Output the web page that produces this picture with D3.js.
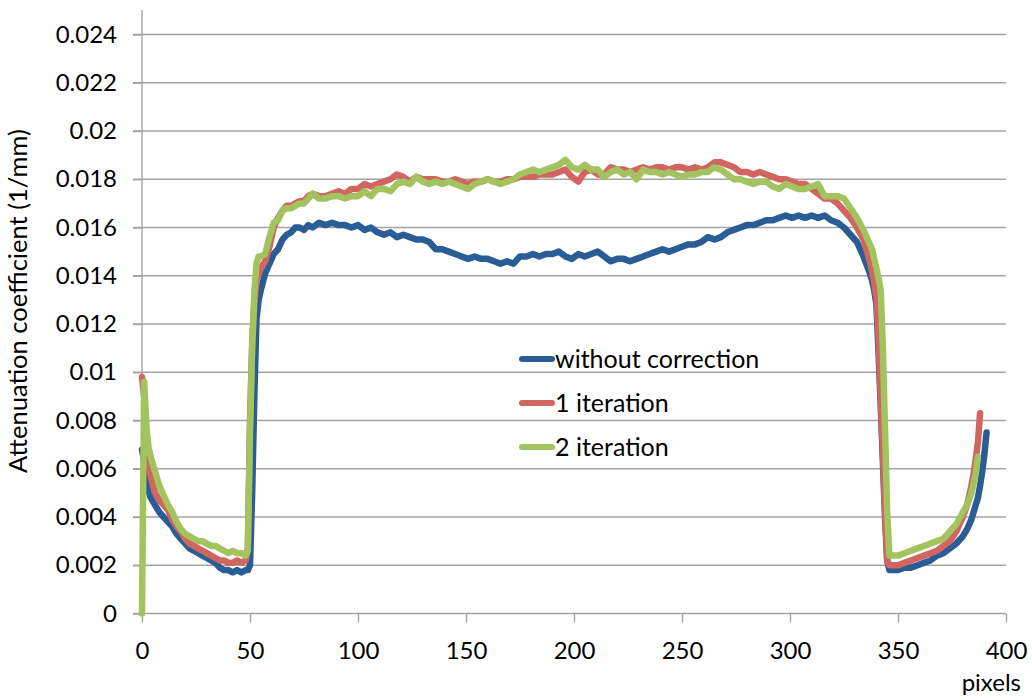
<!DOCTYPE html>
<html>
<head>
<meta charset="utf-8">
<script src="https://cdn.jsdelivr.net/npm/d3@7"></script>
<style>
  body { margin: 0; background: #ffffff; }
  svg text { font-family: Lato, "Open Sans", "Liberation Sans", sans-serif; fill: #000; }
</style>
</head>
<body>
<svg id="chart" width="1032" height="700"></svg>
<script>
// Profile position along the line (pixels)
const pixelPos = [
  0, 1, 2, 3, 4,
  6, 8, 10, 12, 14, 16, 18, 20, 22, 24, 26, 28, 30, 32, 34, 36, 38, 40, 42, 44, 46, 48,
  49, 50, 51, 52, 53, 54, 55,
  57, 59, 61, 63, 65, 67, 69, 71, 73, 75, 77, 79,
  82, 85, 88, 91, 94, 97, 100, 103, 106, 109,
  112, 115, 118, 121, 124, 127, 130, 133, 136, 139,
  142, 145, 148, 151, 154, 157, 160, 163, 166, 169,
  172, 175, 178, 181, 184, 187, 190, 193, 196, 199,
  202, 205, 208, 211, 214, 217, 220, 223, 226, 229,
  232, 235, 238, 241, 244, 247, 250, 253, 256, 259,
  262, 265, 268, 271, 274, 277, 280, 283, 286, 289,
  292, 295, 298, 301, 304, 307, 310, 313, 316, 319,
  322, 325, 328, 331, 334, 337,
  338, 339, 340, 341, 342, 343, 344, 345, 346, 347,
  350, 353, 356, 359, 362, 365, 368, 371, 374, 377, 380,
  382, 384, 385, 386, 387, 388, 389, 390, 391
];

// Attenuation coefficient (1/mm), without correction
const withoutCorrection = [
  0.0068, 0.0063, 0.0056, 0.0051, 0.0048,
  0.0045, 0.0042, 0.0040, 0.0038, 0.0036, 0.0033, 0.0031, 0.0029, 0.0027, 0.0026, 0.0025, 0.0024, 0.0023, 0.0022, 0.0021, 0.0019, 0.0018, 0.0018, 0.0017, 0.0018, 0.0017, 0.0018,
  0.0018, 0.0020, 0.0050, 0.0090, 0.0122, 0.0130, 0.0134,
  0.0141, 0.0145, 0.0149, 0.0151, 0.0155, 0.0157, 0.0158, 0.0160, 0.0160, 0.0159, 0.0161, 0.0160,
  0.0162, 0.0161, 0.0162, 0.0161, 0.0161, 0.0160, 0.0161, 0.0159, 0.0160, 0.0158,
  0.0157, 0.0158, 0.0156, 0.0157, 0.0156, 0.0155, 0.0155, 0.0154, 0.0151, 0.0151,
  0.0150, 0.0149, 0.0148, 0.0147, 0.0148, 0.0147, 0.0147, 0.0146, 0.0145, 0.0146,
  0.0145, 0.0148, 0.0148, 0.0149, 0.0148, 0.0149, 0.0149, 0.0150, 0.0148, 0.0147,
  0.0149, 0.0148, 0.0149, 0.0150, 0.0148, 0.0146, 0.0147, 0.0147, 0.0146, 0.0147,
  0.0148, 0.0149, 0.0150, 0.0151, 0.0150, 0.0151, 0.0152, 0.0153, 0.0153, 0.0154,
  0.0156, 0.0155, 0.0156, 0.0158, 0.0159, 0.0160, 0.0161, 0.0161, 0.0162, 0.0163,
  0.0163, 0.0164, 0.0165, 0.0164, 0.0165, 0.0164, 0.0165, 0.0164, 0.0165, 0.0163,
  0.0162, 0.0160, 0.0157, 0.0154, 0.0148, 0.0141,
  0.0138, 0.0134, 0.0128, 0.0108, 0.0086, 0.0063, 0.0040, 0.0022, 0.0018, 0.0018,
  0.0018, 0.0019, 0.0019, 0.0020, 0.0021, 0.0022, 0.0024, 0.0025, 0.0027, 0.0029, 0.0032,
  0.0035, 0.0039, 0.0042, 0.0045, 0.0048, 0.0053, 0.0059, 0.0066, 0.0075
];

// Attenuation coefficient (1/mm), after 1 iteration
const iteration1 = [
  0.0098, 0.0090, 0.0071, 0.0062, 0.0057,
  0.0050, 0.0047, 0.0045, 0.0043, 0.0039, 0.0036, 0.0034, 0.0031, 0.0029, 0.0028, 0.0027, 0.0026, 0.0025, 0.0024, 0.0023, 0.0022, 0.0022, 0.0021, 0.0021, 0.0022, 0.0021, 0.0022,
  0.0027, 0.0080, 0.0112, 0.0128, 0.0138, 0.0141, 0.0143,
  0.0146, 0.0152, 0.0160, 0.0164, 0.0167, 0.0169, 0.0169, 0.0170, 0.0171, 0.0171, 0.0173, 0.0174,
  0.0173, 0.0173, 0.0174, 0.0175, 0.0174, 0.0176, 0.0176, 0.0178, 0.0177, 0.0178,
  0.0179, 0.0180, 0.0182, 0.0181, 0.0179, 0.0181, 0.0180, 0.0180, 0.0180, 0.0179,
  0.0179, 0.0180, 0.0179, 0.0178, 0.0179, 0.0179, 0.0180, 0.0179, 0.0179, 0.0180,
  0.0180, 0.0181, 0.0181, 0.0181, 0.0182, 0.0182, 0.0182, 0.0183, 0.0184, 0.0181,
  0.0179, 0.0183, 0.0184, 0.0182, 0.0182, 0.0185, 0.0184, 0.0184, 0.0183, 0.0184,
  0.0185, 0.0184, 0.0185, 0.0185, 0.0184, 0.0185, 0.0185, 0.0184, 0.0185, 0.0184,
  0.0185, 0.0187, 0.0187, 0.0186, 0.0185, 0.0183, 0.0183, 0.0182, 0.0183, 0.0182,
  0.0181, 0.0180, 0.0180, 0.0179, 0.0178, 0.0178, 0.0176, 0.0174, 0.0172, 0.0172,
  0.0170, 0.0167, 0.0164, 0.0160, 0.0155, 0.0146,
  0.0142, 0.0137, 0.0131, 0.0114, 0.0090, 0.0067, 0.0043, 0.0022, 0.0020, 0.0020,
  0.0020, 0.0021, 0.0022, 0.0023, 0.0024, 0.0025, 0.0026, 0.0028, 0.0030, 0.0034, 0.0040,
  0.0045, 0.0053, 0.0058, 0.0064, 0.0071, 0.0083, null, null, null
];

// Attenuation coefficient (1/mm), after 2 iterations
const iteration2 = [
  0.0000, 0.0096, 0.0078, 0.0069, 0.0065,
  0.0059, 0.0053, 0.0049, 0.0045, 0.0042, 0.0038, 0.0035, 0.0033, 0.0032, 0.0031, 0.0030, 0.0030, 0.0029, 0.0028, 0.0028, 0.0027, 0.0026, 0.0025, 0.0026, 0.0025, 0.0025, 0.0024,
  0.0026, 0.0075, 0.0110, 0.0133, 0.0145, 0.0148, 0.0148,
  0.0149, 0.0156, 0.0162, 0.0163, 0.0167, 0.0168, 0.0168, 0.0169, 0.0170, 0.0170, 0.0172, 0.0174,
  0.0172, 0.0172, 0.0173, 0.0173, 0.0172, 0.0173, 0.0173, 0.0175, 0.0173, 0.0176,
  0.0176, 0.0175, 0.0178, 0.0179, 0.0178, 0.0181, 0.0179, 0.0178, 0.0179, 0.0178,
  0.0179, 0.0178, 0.0177, 0.0176, 0.0178, 0.0179, 0.0180, 0.0179, 0.0178, 0.0179,
  0.0180, 0.0182, 0.0183, 0.0184, 0.0183, 0.0184, 0.0185, 0.0186, 0.0188, 0.0185,
  0.0184, 0.0186, 0.0184, 0.0184, 0.0181, 0.0183, 0.0184, 0.0182, 0.0183, 0.0180,
  0.0184, 0.0183, 0.0183, 0.0182, 0.0183, 0.0182, 0.0181, 0.0182, 0.0182, 0.0183,
  0.0183, 0.0185, 0.0184, 0.0182, 0.0180, 0.0180, 0.0179, 0.0178, 0.0179, 0.0179,
  0.0177, 0.0176, 0.0178, 0.0177, 0.0176, 0.0176, 0.0177, 0.0178, 0.0173, 0.0173,
  0.0173, 0.0172, 0.0168, 0.0164, 0.0159, 0.0153,
  0.0151, 0.0147, 0.0143, 0.0139, 0.0134, 0.0110, 0.0076, 0.0042, 0.0024, 0.0024,
  0.0024, 0.0025, 0.0026, 0.0027, 0.0028, 0.0029, 0.0030, 0.0031, 0.0034, 0.0037, 0.0042,
  0.0045, 0.0050, 0.0054, 0.0058, 0.0065, null, null, null, null
];

const seriesNames = ["without correction", "1 iteration", "2 iteration"];
const seriesColors = ["#2a5d96", "#d0665f", "#a3c35f"];

const xTicks = [0, 50, 100, 150, 200, 250, 300, 350, 400];
const yTicks = [0, 0.002, 0.004, 0.006, 0.008, 0.01, 0.012, 0.014, 0.016, 0.018, 0.02, 0.022, 0.024];
const yTickLabels = ["0", "0.002", "0.004", "0.006", "0.008", "0.01", "0.012", "0.014", "0.016", "0.018", "0.02", "0.022", "0.024"];

const yTitle = "Attenuation coefficient (1/mm)";
const xTitle = "pixels";

// ---- layout ----
const svg = d3.select("#chart");
const plot = { left: 142, right: 1006, top: 10, zero: 613.5, yMaxPos: 34.5 };
const tickFont = 24;
const legendFont = 25;
const titleFont = 25.5;
const gridColor = "#a3a3a3";

const x = d3.scaleLinear().domain([0, 400]).range([plot.left, plot.right]);
const y = d3.scaleLinear().domain([0, 0.024]).range([plot.zero, plot.yMaxPos]);

// horizontal gridlines (start at the tick mark, run across the plot)
svg.append("g")
  .selectAll("line")
  .data(yTicks)
  .join("line")
  .attr("x1", plot.left - 9)
  .attr("x2", plot.right)
  .attr("y1", d => y(d))
  .attr("y2", d => y(d))
  .attr("stroke", gridColor)
  .attr("stroke-width", 1.4);

// y axis
const yAxis = svg.append("g")
  .attr("transform", `translate(${plot.left},0)`)
  .call(d3.axisLeft(y).tickValues(yTicks).tickSize(9).tickPadding(16)
    .tickFormat((d, i) => yTickLabels[i]));
yAxis.select(".domain").remove();
yAxis.selectAll(".tick line").attr("stroke", gridColor).attr("stroke-width", 1.4);
yAxis.selectAll(".tick text").attr("font-size", tickFont).attr("font-family", null).attr("fill", "#000");
yAxis.append("line")
  .attr("x1", 0).attr("x2", 0)
  .attr("y1", plot.top).attr("y2", plot.zero)
  .attr("stroke", gridColor).attr("stroke-width", 1.4);

// x axis
const xAxis = svg.append("g")
  .attr("transform", `translate(0,${plot.zero})`)
  .call(d3.axisBottom(x).tickValues(xTicks).tickSize(9).tickPadding(19));
xAxis.select(".domain").remove();
xAxis.selectAll(".tick line").attr("stroke", gridColor).attr("stroke-width", 1.4);
xAxis.selectAll(".tick text").attr("font-size", tickFont).attr("font-family", null).attr("fill", "#000");

// axis titles
svg.append("text")
  .attr("transform", `translate(27,301) rotate(-90)`)
  .attr("text-anchor", "middle")
  .attr("font-size", titleFont)
  .text(yTitle);

svg.append("text")
  .attr("x", 1021)
  .attr("y", 691)
  .attr("text-anchor", "end")
  .attr("font-size", tickFont)
  .text(xTitle);

// series lines
const seriesValues = [withoutCorrection, iteration1, iteration2];
const line = d3.line()
  .defined(d => d.v !== null)
  .x(d => x(d.p))
  .y(d => y(d.v));

seriesValues.forEach((vals, k) => {
  const pts = pixelPos.map((p, i) => ({ p, v: vals[i] }));
  svg.append("path")
    .datum(pts)
    .attr("d", line)
    .attr("fill", "none")
    .attr("stroke", seriesColors[k])
    .attr("stroke-width", 6.5)
    .attr("stroke-linejoin", "round")
    .attr("stroke-linecap", "round");
});

// legend
const legend = svg.append("g").attr("transform", "translate(520,359)");
seriesNames.forEach((name, k) => {
  const g = legend.append("g").attr("transform", `translate(0,${k * 44})`);
  g.append("line")
    .attr("x1", 2).attr("x2", 32)
    .attr("y1", 0).attr("y2", 0)
    .attr("stroke", seriesColors[k])
    .attr("stroke-width", 6)
    .attr("stroke-linecap", "round");
  g.append("text")
    .attr("x", 35)
    .attr("dy", "0.35em")
    .attr("font-size", legendFont)
    .text(name);
});
</script>
</body>
</html>
